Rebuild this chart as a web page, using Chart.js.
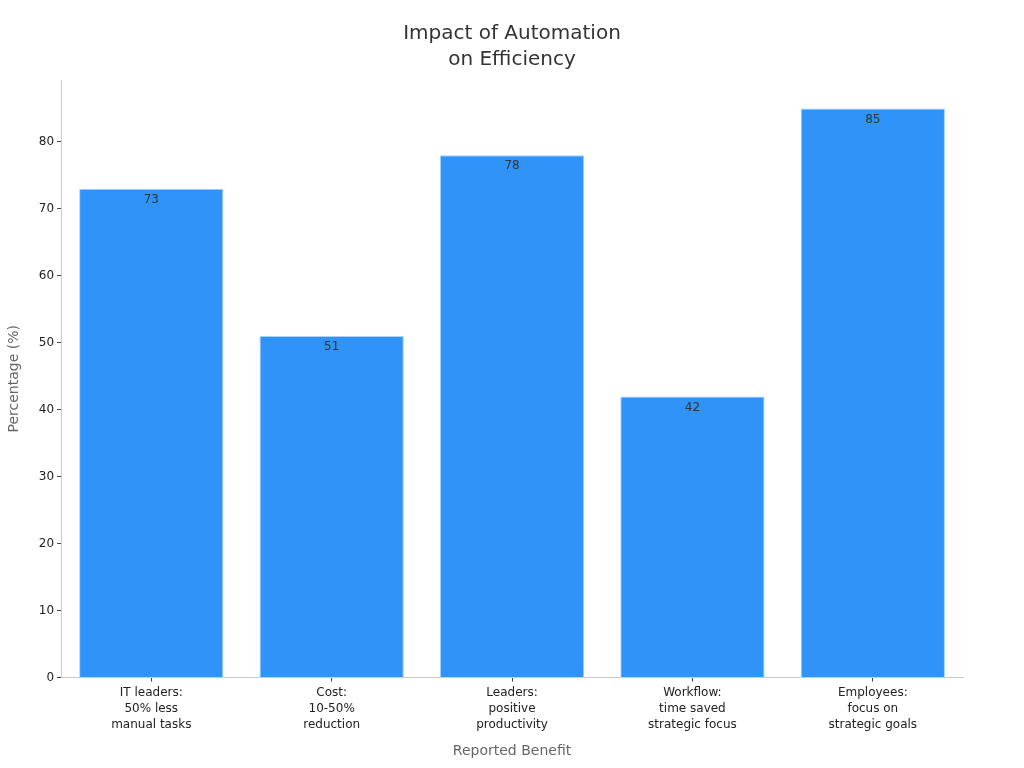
<!DOCTYPE html>
<html><head><meta charset="utf-8">
<script src="https://cdn.jsdelivr.net/npm/chart.js@4.4.0/dist/chart.umd.min.js"></script>
<style>html,body{margin:0;padding:0;background:#fff}#wrap{width:1024px;height:768px}</style>
</head><body><div id="wrap"><canvas id="c" width="1024" height="768"></canvas></div>
<script>
const categories = [
  ["IT leaders:", "50% less", "manual tasks"],
  ["Cost:", "10-50%", "reduction"],
  ["Leaders:", "positive", "productivity"],
  ["Workflow:", "time saved", "strategic focus"],
  ["Employees:", "focus on", "strategic goals"]
];
const values = [73, 51, 78, 42, 85];
const titleLines = ["Impact of Automation", "on Efficiency"];
const xTitle = "Reported Benefit";
const yTitle = "Percentage (%)";

const FONT = "'DejaVu Sans', sans-serif";
Chart.defaults.font.family = FONT;

const labelPlugin = {
  id: 'vals',
  afterDatasetsDraw(chart) {
    const ctx = chart.ctx;
    const meta = chart.getDatasetMeta(0);
    ctx.save();
    ctx.font = "12px " + FONT;
    ctx.fillStyle = "#333";
    ctx.textAlign = "center";
    ctx.textBaseline = "middle";
    meta.data.forEach((el, i) => {
      ctx.fillText(String(values[i]), el.x, el.y + 11);
    });
    ctx.restore();
  }
};

const titlePlugin = {
  id: 'ctitle',
  afterDraw(chart) {
    const ctx = chart.ctx;
    ctx.save();
    ctx.font = "20px " + FONT;
    ctx.fillStyle = "#333";
    ctx.textAlign = "center";
    ctx.textBaseline = "middle";
    titleLines.forEach((t, i) => ctx.fillText(t, chart.width / 2, 34 + i * 26));
    ctx.restore();
  }
};

new Chart(document.getElementById('c'), {
  type: 'bar',
  data: {
    labels: categories,
    datasets: [{
      data: values,
      backgroundColor: '#2f93f8',
      borderColor: '#a6d3ff',
      borderWidth: 1,
      categoryPercentage: 0.8,
      barPercentage: 1.0
    }]
  },
  options: {
    responsive: false,
    animation: false,
    devicePixelRatio: 1,
    layout: { padding: { left: 2, right: 61, top: 80, bottom: 4 } },
    plugins: {
      legend: { display: false },
      tooltip: { enabled: false },
      title: { display: false }
    },
    scales: {
      x: {
        grid: { drawOnChartArea: false, drawTicks: true, tickLength: 4, color: '#444', offset: false },
        border: { color: '#ccc' },
        ticks: { color: '#222', font: { size: 12, lineHeight: 1.35 }, maxRotation: 0, autoSkip: false, padding: 3 },
        title: { display: true, text: xTitle, color: '#666', font: { size: 14 }, padding: { top: 7 } }
      },
      y: {
        min: 0, max: 89.25,
        grid: { drawOnChartArea: false, drawTicks: true, tickLength: 4, color: '#444' },
        border: { color: '#ccc' },
        ticks: { stepSize: 10, color: '#222', font: { size: 12 }, padding: 3,
          callback: (v) => (v % 10 === 0 ? String(v) : null) },
        title: { display: true, text: yTitle, color: '#666', font: { size: 14 }, padding: { bottom: 13 } }
      }
    }
  },
  plugins: [labelPlugin, titlePlugin]
});
</script></body></html>
